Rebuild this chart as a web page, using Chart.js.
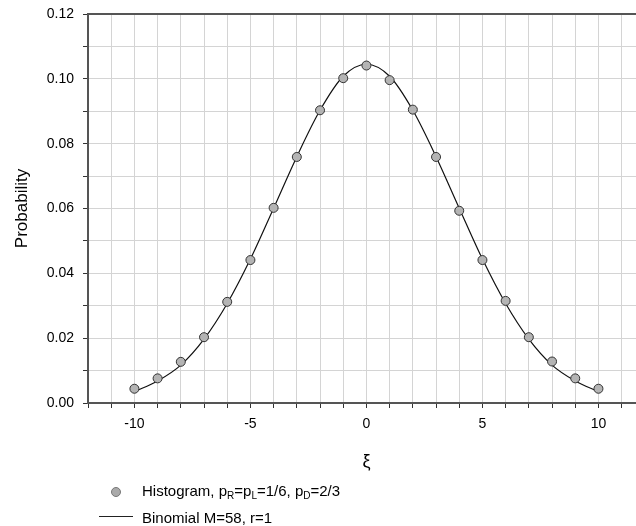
<!DOCTYPE html>
<html>
<head>
<meta charset="utf-8">
<script src="https://cdn.jsdelivr.net/npm/chart.js@4.4.1/dist/chart.umd.min.js"></script>
<style>
  html, body { margin: 0; padding: 0; background: #fff; overflow: hidden; }
  #wrap { position: relative; width: 636px; height: 526px; overflow: hidden; font-family: "Liberation Sans", Arial, sans-serif; }
  #chart { position: absolute; left: 0; top: 0; }
  .lg { position: absolute; font-size: 15px; line-height: 18px; color: #000; white-space: nowrap; }
  .lg sub { font-size: 10px; vertical-align: -3px; line-height: 0; }
  #dot { position: absolute; left: 111px; top: 487px; width: 8px; height: 8px; border-radius: 50%;
         background: #aaa; border: 1px solid #777; }
  #ln  { position: absolute; left: 99px; top: 516px; width: 34px; height: 1px; background: #222; }
</style>
</head>
<body>
<div id="wrap">
  <!-- canvas is a few px wider than the window; the plot runs off the right edge like the original -->
  <canvas id="chart" width="642" height="526"></canvas>
  <div id="dot"></div>
  <div class="lg" style="left:142px; top:482px">Histogram, p<sub>R</sub>=p<sub>L</sub>=1/6, p<sub>D</sub>=2/3</div>
  <div id="ln"></div>
  <div class="lg" style="left:142px; top:509px">Binomial M=58, r=1</div>
</div>
<script>
// positions xi = -10 .. 10
const xi        = [-10, -9, -8, -7, -6, -5, -4, -3, -2, -1, 0, 1, 2, 3, 4, 5, 6, 7, 8, 9, 10];
// simulated histogram (dots)
const histogram = [0.0044, 0.0076, 0.0127, 0.0203, 0.0312, 0.0441, 0.0602, 0.0759, 0.0903, 0.1002, 0.1041,
                   0.0996, 0.0905, 0.0759, 0.0593, 0.0441, 0.0315, 0.0203, 0.0128, 0.0076, 0.0044];
// binomial curve (solid line)
const binomial  = [0.0035, 0.0068, 0.0117, 0.0197, 0.0307, 0.0444, 0.0601, 0.0760, 0.0903, 0.1008, 0.1045,
                   0.1008, 0.0903, 0.0760, 0.0601, 0.0444, 0.0307, 0.0197, 0.0117, 0.0068, 0.0035];

const yLabels = ['0.00', '0.02', '0.04', '0.06', '0.08', '0.10', '0.12'];
const xLabels = [-10, -5, 0, 5, 10];

const FONT = "'Liberation Sans', Arial, sans-serif";

// top frame line + xi title
const framePlugin = {
  id: 'frame',
  afterDraw(chart) {
    const { ctx, chartArea: a, scales } = chart;
    ctx.save();
    ctx.strokeStyle = '#555';
    ctx.lineWidth = 2;
    ctx.beginPath();
    ctx.moveTo(a.left, a.top);
    ctx.lineTo(a.right, a.top);
    ctx.stroke();
    ctx.fillStyle = '#000';
    ctx.font = '18px ' + FONT;
    ctx.textAlign = 'center';
    ctx.textBaseline = 'middle';
    ctx.fillText('ξ', scales.x.getPixelForValue(0), 462);
    ctx.restore();
  }
};

new Chart(document.getElementById('chart'), {
  type: 'scatter',
  data: {
    datasets: [
      {
        label: 'Histogram',
        data: xi.map((x, i) => ({ x, y: histogram[i] })),
        pointRadius: 4.5,
        pointBackgroundColor: '#b4b4b4',
        pointBorderColor: '#333',
        pointBorderWidth: 1,
        order: 0
      },
      {
        label: 'Binomial',
        data: xi.map((x, i) => ({ x, y: binomial[i] })),
        showLine: true,
        borderColor: '#111',
        borderWidth: 1.2,
        pointRadius: 0,
        cubicInterpolationMode: 'monotone',
        order: 1
      }
    ]
  },
  options: {
    responsive: false,
    animation: false,
    layout: { padding: { top: 14, left: 0, right: 0, bottom: 0 } },
    plugins: { legend: { display: false }, tooltip: { enabled: false } },
    scales: {
      x: {
        type: 'linear',
        min: -12,
        max: 11.64,
        afterBuildTicks: s => {
          const t = [];
          for (let v = -12; v <= 11; v++) t.push({ value: v });
          s.ticks = t;
        },
        afterFit: s => { s.height = 123; s.paddingLeft = 0; s.paddingRight = 0; },
        grid: { color: '#d4d4d4', tickColor: '#333', tickLength: 5 },
        border: { color: '#555', width: 2 },
        ticks: {
          color: '#000',
          font: { family: FONT, size: 14 },
          padding: 8,
          maxRotation: 0,
          autoSkip: false,
          callback: v => xLabels.includes(v) ? String(v) : ''
        }
      },
      y: {
        min: 0,
        max: 0.12,
        afterBuildTicks: s => {
          const t = [];
          for (let k = 0; k <= 12; k++) t.push({ value: k / 100 });
          s.ticks = t;
        },
        afterFit: s => { s.width = 88; s.paddingTop = 0; s.paddingBottom = 0; },
        grid: { color: '#d4d4d4', tickColor: '#333', tickLength: 5 },
        border: { color: '#555', width: 2 },
        ticks: {
          color: '#000',
          font: { family: FONT, size: 14 },
          padding: 9,
          autoSkip: false,
          callback: v => {
            const k = Math.round(v * 100);
            return k % 2 === 0 ? yLabels[k / 2] : '';
          }
        },
        title: {
          display: true,
          text: 'Probability',
          color: '#000',
          font: { family: FONT, size: 17 },
          padding: { top: 12, bottom: 0 }
        }
      }
    }
  },
  plugins: [framePlugin]
});
</script>
</body>
</html>
